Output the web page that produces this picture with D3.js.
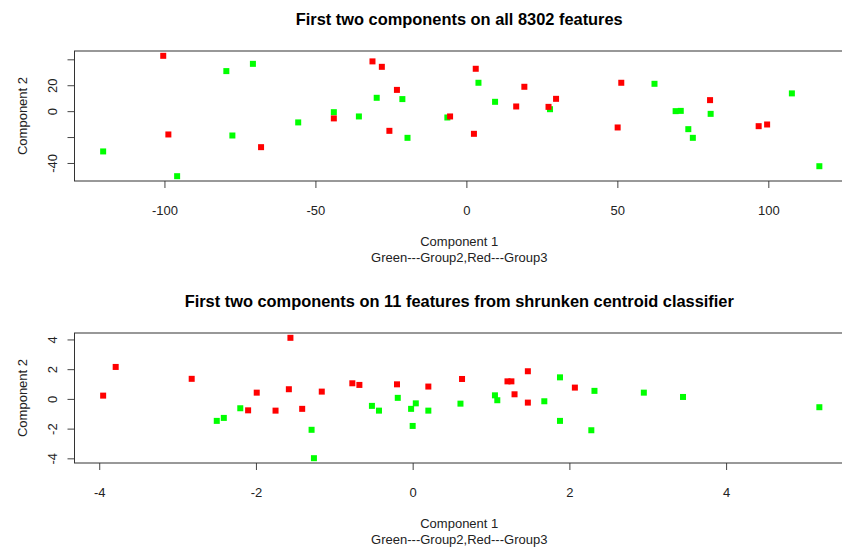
<!DOCTYPE html>
<html>
<head>
<meta charset="utf-8">
<script src="https://cdn.jsdelivr.net/npm/d3@7"></script>
<style>
  body { margin: 0; background: #fff; }
  svg { display: block; }
  .tick text, .axlab { font-family: "Liberation Sans", Arial, sans-serif; font-size: 13px; fill: #222; }
  .title { font-family: "Liberation Sans", Arial, sans-serif; font-weight: bold; font-size: 16.4px; fill: #000; }
</style>
</head>
<body>
<svg id="chart" width="842" height="547"></svg>
<script>
// First plot: all 8302 features
const topGreenX = [-79.5, -70.7, -55.7, -77.5, -120.3, -95.8, -43.9, -35.6, -29.7, -21.2, -19.5, -6.3, 4.0, 9.5, 27.7, 62.3, 69.3, 71.0, 80.9, 73.5, 75.0, 107.8, 116.9];
const topGreenY = [30.9, 36.5, -8.7, -18.8, -31.1, -50.2, -0.8, -4.1, 10.3, 9.3, -20.6, -4.9, 21.9, 7.2, 1.5, 21.1, 0.0, 0.2, -2.1, -13.9, -20.6, 13.7, -42.5];
const topRedX = [-100.4, -98.7, -68.0, -43.9, -31.1, -28.0, -23.0, -25.5, -5.4, 2.5, 3.1, 16.5, 19.2, 27.2, 29.7, 51.3, 50.1, 80.7, 96.8, 99.6];
const topRedY = [42.7, -18.0, -27.8, -5.6, 38.4, 34.2, 16.4, -15.2, -4.1, -17.5, 32.7, 3.6, 18.8, 3.3, 9.5, 21.9, -12.6, 8.5, -11.6, -10.3];
const topXTicks = [-100, -50, 0, 50, 100];
const topYTicks = [-40, -20, 0, 20, 40];
const topYLabeled = [-40, 0, 20];

// Second plot: 11 features from shrunken centroid classifier
const botGreenX = [-2.50, -2.41, -2.20, -1.29, -1.26, -0.52, -0.43, -0.19, -0.02, 0.04, 0.00, 0.20, 0.61, 1.05, 1.08, 1.68, 1.88, 1.88, 2.32, 2.28, 2.95, 3.45, 5.19];
const botGreenY = [-1.48, -1.28, -0.63, -2.08, -3.99, -0.47, -0.79, 0.07, -0.67, -0.30, -1.82, -0.79, -0.32, 0.24, -0.09, -0.16, 1.45, -1.48, 0.54, -2.11, 0.42, 0.13, -0.56];
const botRedX = [-3.95, -3.79, -2.82, -1.56, -1.99, -2.10, -1.75, -1.58, -1.41, -1.16, -0.77, -0.68, -0.20, 0.20, 0.63, 1.21, 1.26, 1.47, 1.30, 1.47, 2.07];
const botRedY = [0.22, 2.15, 1.35, 4.11, 0.42, -0.77, -0.79, 0.65, -0.67, 0.49, 1.05, 0.94, 0.98, 0.83, 1.34, 1.18, 1.18, 1.86, 0.31, -0.25, 0.76];
const botXTicks = [-4, -2, 0, 2, 4];
const botYTicks = [-4, -2, 0, 2, 4];
const botYLabeled = [-4, -2, 0, 2, 4];

const svg = d3.select("#chart");
const plotLeft = 74.5, plotRight = 848;

// R style: pad range by 4% on each side
function padded(a, b) {
  const ext = d3.extent(a.concat(b));
  const pad = (ext[1] - ext[0]) * 0.04;
  return [ext[0] - pad, ext[1] + pad];
}

function drawPanel(opts) {
  const g = svg.append("g");
  const x = d3.scaleLinear().domain(padded(opts.gx, opts.rx)).range([plotLeft, plotRight]);
  const y = d3.scaleLinear().domain(padded(opts.gy, opts.ry)).range([opts.bottom, opts.top]);

  const xAxis = g.append("g")
    .attr("transform", `translate(0,${opts.bottom})`)
    .call(d3.axisBottom(x).tickValues(opts.xTicks).tickSize(7).tickPadding(18).tickFormat(d => d));
  const yAxis = g.append("g")
    .attr("transform", `translate(${plotLeft},0)`)
    .call(d3.axisLeft(y).tickValues(opts.yTicks).tickSize(7).tickFormat(d => opts.yLabeled.includes(d) ? d : ""));
  [xAxis, yAxis].forEach(a => {
    a.select(".domain").remove();
    a.selectAll(".tick line").attr("stroke", "#444");
  });
  xAxis.selectAll(".tick text").attr("fill", "#222").attr("dy", "0.71em");
  yAxis.selectAll(".tick text")
    .attr("fill", "#222")
    .attr("text-anchor", "middle")
    .attr("x", 0).attr("dy", 0)
    .attr("transform", "translate(-18,0) rotate(-90)");

  // box
  g.append("rect")
    .attr("x", plotLeft).attr("y", opts.top)
    .attr("width", plotRight - plotLeft).attr("height", opts.bottom - opts.top)
    .attr("fill", "none").attr("stroke", "#333").attr("stroke-width", 1);

  const s = 6;
  const green = opts.gx.map((v, i) => ({ x: v, y: opts.gy[i] }));
  const red = opts.rx.map((v, i) => ({ x: v, y: opts.ry[i] }));
  g.selectAll(".g").data(green).join("rect")
    .attr("x", d => x(d.x) - s / 2).attr("y", d => y(d.y) - s / 2)
    .attr("width", s).attr("height", s).attr("fill", "#00ff00");
  g.selectAll(".r").data(red).join("rect")
    .attr("x", d => x(d.x) - s / 2).attr("y", d => y(d.y) - s / 2)
    .attr("width", s).attr("height", s).attr("fill", "#ff0000");

  const cx = (plotLeft + plotRight) / 2;
  g.append("text").attr("class", "title")
    .attr("x", cx - 2).attr("y", opts.top - 26)
    .attr("text-anchor", "middle").text(opts.title);
  g.append("text").attr("class", "axlab")
    .attr("x", cx - 2).attr("y", opts.bottom + 65)
    .attr("text-anchor", "middle").text("Component 1");
  g.append("text").attr("class", "axlab")
    .attr("x", cx - 2).attr("y", opts.bottom + 81)
    .attr("text-anchor", "middle").text("Green---Group2,Red---Group3");
  g.append("text").attr("class", "axlab")
    .attr("transform", `translate(27,${(opts.top + opts.bottom) / 2}) rotate(-90)`)
    .attr("text-anchor", "middle").text("Component 2");
}

drawPanel({
  gx: topGreenX, gy: topGreenY, rx: topRedX, ry: topRedY,
  xTicks: topXTicks, yTicks: topYTicks, yLabeled: topYLabeled,
  top: 51, bottom: 181,
  title: "First two components on all 8302 features"
});

drawPanel({
  gx: botGreenX, gy: botGreenY, rx: botRedX, ry: botRedY,
  xTicks: botXTicks, yTicks: botYTicks, yLabeled: botYLabeled,
  top: 333, bottom: 463,
  title: "First two components on 11 features from shrunken centroid classifier"
});
</script>
</body>
</html>
